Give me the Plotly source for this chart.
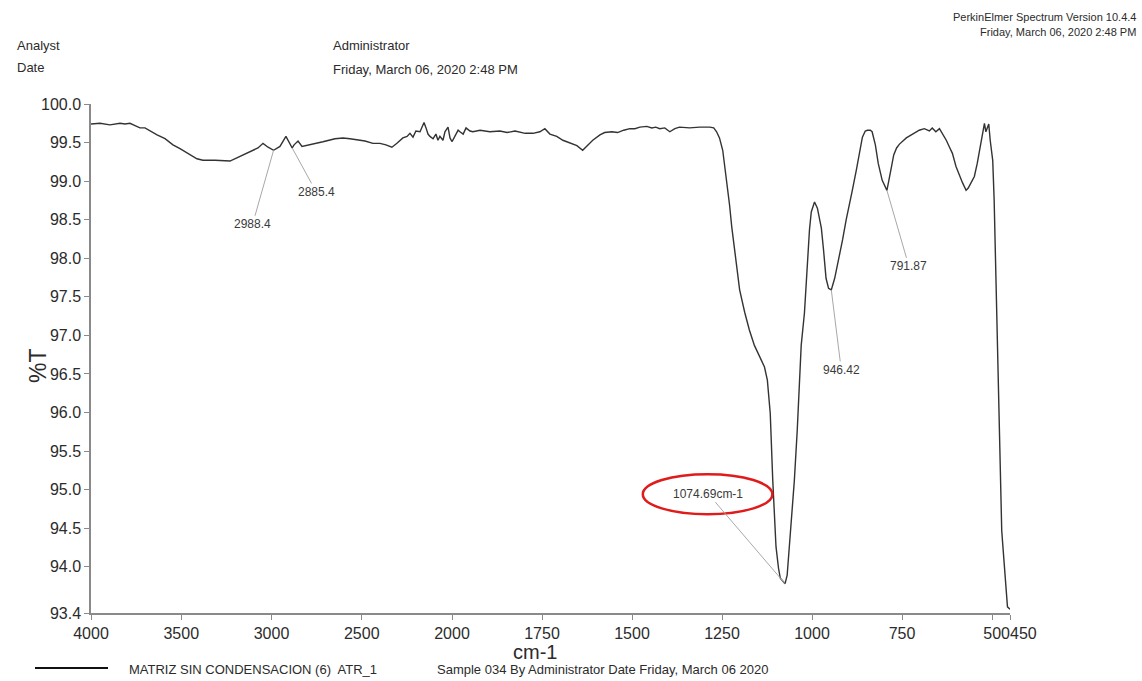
import plotly.graph_objects as go

# ---- spectrum data: wavenumber (cm-1) and transmittance (%T) ----
# 4000 -> 2000 cm-1 section (compressed scale)
wn_hi = [4000, 3950, 3895, 3839, 3812, 3784, 3756, 3729, 3701, 3673,
         3634, 3590, 3546, 3507, 3452, 3413, 3380, 3313, 3230, 3175,
         3119, 3075, 3047, 3019, 2988.4, 2953, 2920, 2885.4, 2875, 2853,
         2831, 2787, 2715, 2648, 2604, 2565, 2526, 2482, 2438, 2399,
         2366, 2333, 2305, 2272, 2249, 2233, 2216, 2200, 2177, 2166,
         2155, 2144, 2133, 2122, 2105, 2089, 2078, 2067, 2050, 2039,
         2022, 2011, 2000]
t_hi = [99.74, 99.75, 99.73, 99.75, 99.74, 99.75, 99.72, 99.69, 99.69, 99.65,
        99.60, 99.55, 99.47, 99.42, 99.34, 99.29, 99.27, 99.27, 99.26, 99.32,
        99.38, 99.43, 99.49, 99.44, 99.40, 99.45, 99.58, 99.43, 99.47, 99.52,
        99.45, 99.47, 99.51, 99.55, 99.56, 99.55, 99.54, 99.52, 99.49, 99.49,
        99.47, 99.44, 99.49, 99.56, 99.58, 99.62, 99.57, 99.65, 99.64, 99.69,
        99.76, 99.69, 99.61, 99.58, 99.55, 99.61, 99.53, 99.58, 99.53, 99.64,
        99.70, 99.56, 99.51]

# 2000 -> 450 cm-1 section (expanded scale)
wn_lo = [2000, 1992, 1983, 1978, 1969, 1961, 1950, 1942, 1922, 1895,
         1867, 1847, 1825, 1797, 1775, 1756, 1742, 1728, 1709, 1692,
         1673, 1653, 1637, 1623, 1609, 1589, 1576, 1556, 1540, 1523,
         1506, 1492, 1478, 1459, 1445, 1434, 1423, 1409, 1395, 1381,
         1368, 1340, 1312, 1284, 1273, 1265, 1257, 1248, 1243, 1237,
         1229, 1223, 1215, 1210, 1201, 1187, 1174, 1160, 1150, 1140,
         1132, 1124, 1118, 1116, 1109, 1104, 1100, 1093, 1088, 1074.69,
         1069, 1063, 1055, 1049, 1041, 1035, 1030, 1021, 1013, 1007,
         1002, 993, 985, 974, 968, 961, 954, 946.42, 937, 928,
         915, 905, 896, 888, 877, 868, 860, 852, 846, 838,
         833, 824, 816, 805, 791.87, 779, 773, 765, 757, 738,
         721, 702, 688, 674, 666, 656, 646, 638, 627, 618,
         610, 600, 591, 582, 572, 566, 558, 549, 541, 535,
         530, 521, 517, 509, 505, 498, 494, 489, 485, 480,
         473, 470, 463, 457, 450]
t_lo = [99.51, 99.58, 99.66, 99.64, 99.61, 99.69, 99.65, 99.64, 99.66, 99.64,
        99.65, 99.63, 99.65, 99.62, 99.62, 99.64, 99.68, 99.61, 99.58, 99.53,
        99.50, 99.46, 99.40, 99.46, 99.53, 99.60, 99.63, 99.64, 99.63, 99.66,
        99.68, 99.68, 99.70, 99.71, 99.69, 99.70, 99.68, 99.69, 99.64, 99.68,
        99.70, 99.69, 99.70, 99.70, 99.69, 99.64, 99.56, 99.40, 99.23, 99.01,
        98.69, 98.41, 98.11, 97.85, 97.59, 97.30, 97.07, 96.87, 96.77, 96.67,
        96.59, 96.42, 96.16, 95.99, 95.12, 94.60, 94.26, 93.98, 93.85, 93.78,
        93.89, 94.26, 94.73, 95.12, 95.77, 96.42, 96.87, 97.29, 97.98, 98.37,
        98.60, 98.73, 98.65, 98.39, 98.11, 97.74, 97.61, 97.59, 97.74, 97.94,
        98.24, 98.50, 98.69, 98.88, 99.14, 99.38, 99.57, 99.65, 99.66, 99.66,
        99.64, 99.47, 99.23, 99.01, 98.88, 99.19, 99.34, 99.43, 99.48, 99.56,
        99.61, 99.66, 99.68, 99.65, 99.69, 99.64, 99.68, 99.62, 99.53, 99.44,
        99.36, 99.19, 99.08, 98.98, 98.88, 98.91, 98.98, 99.06, 99.23, 99.38,
        99.53, 99.75, 99.64, 99.74, 99.53, 99.27, 98.75, 97.72, 96.68, 95.56,
        94.47, 94.28, 93.83, 93.48, 93.45]

# labelled peaks
peak_wn = [2988.4, 2885.4, 1074.69, 946.42, 791.87]
peak_text = ["2988.4", "2885.4", "1074.69cm-1", "946.42", "791.87"]
peak_offset = [(-21, 74), (24, 44), (-77, -90), (10, 80), (22, 76)]

# axis ticks (500 and 450 sit so close that their labels run together)
x_ticks_hi = [4000, 3500, 3000, 2500]
x_labels_hi = ["4000", "3500", "3000", "2500"]
x_ticks_lo = [2000, 1750, 1500, 1250, 1000, 750, 500, 450]
x_labels_lo = ["2000", "1750", "1500", "1250", "1000", "750", "", "500450"]
y_ticks = [100.0, 99.5, 99.0, 98.5, 98.0, 97.5, 97.0, 96.5, 96.0, 95.5, 95.0, 94.5, 94.0, 93.4]

# ---- page geometry ----
W, H = 1142, 681
ML, MR, MT, MB = 91, 132, 104, 68
PW, PH = W - ML - MR, H - MT - MB
SPLIT = 361 / PW
FONT = "Liberation Sans, Arial, sans-serif"
AXC = "#8a8a8a"
TXT = "#2b2b2b"


def paper_x(px):
    return (px - ML) / PW


def paper_y(py):
    return (MT + PH - py) / PH


fig = go.Figure()
line_style = dict(color="#333333", width=1.4)
fig.add_trace(go.Scatter(x=wn_hi, y=t_hi, xaxis="x", yaxis="y", mode="lines",
                         line=line_style, hoverinfo="skip"))
fig.add_trace(go.Scatter(x=wn_lo, y=t_lo, xaxis="x2", yaxis="y", mode="lines",
                         line=line_style, hoverinfo="skip"))

axis_common = dict(showline=True, linecolor=AXC, linewidth=1.5, ticks="outside",
                   ticklen=5, tickcolor=AXC, tickwidth=1.2, showgrid=False,
                   zeroline=False, tickangle=0,
                   tickfont=dict(family=FONT, size=16, color=TXT))

fig.update_layout(
    width=W, height=H,
    margin=dict(l=ML, r=MR, t=MT, b=MB, pad=0),
    paper_bgcolor="white", plot_bgcolor="white",
    showlegend=False, hovermode=False,
    font=dict(family=FONT, color=TXT),
    xaxis=dict(domain=[0, SPLIT], range=[4000, 2000], tickmode="array",
               tickvals=x_ticks_hi, ticktext=x_labels_hi,
               anchor="y", **axis_common),
    xaxis2=dict(domain=[SPLIT, 1], range=[2000, 450], tickmode="array",
                tickvals=x_ticks_lo, ticktext=x_labels_lo,
                anchor="y", **axis_common),
    yaxis=dict(range=[93.4, 100.0], tickmode="array", tickvals=y_ticks,
               ticktext=[f"{v:.1f}" for v in y_ticks], anchor="x", **axis_common),
)

# peak labels with leader lines
curve = dict(zip(wn_hi + wn_lo, t_hi + t_lo))
for wn, txt, (ax, ay) in zip(peak_wn, peak_text, peak_offset):
    fig.add_annotation(x=wn, y=curve[wn], xref="x" if wn > 2000 else "x2", yref="y",
                       text=txt, showarrow=True, arrowhead=0, arrowwidth=1,
                       arrowcolor="#a8a8a8", ax=ax, ay=ay, standoff=0,
                       font=dict(family=FONT, size=12, color="#3a3a3a"))

# highlight ring round the main band label
fig.add_shape(type="circle", xref="x2", yref="y", x0=1470, x1=1110, y0=94.68, y1=95.20,
              line=dict(color="#e01b1b", width=2.5))

# axis titles
fig.add_annotation(x=paper_x(535), y=paper_y(652), xref="paper", yref="paper",
                   text="cm-1", showarrow=False, yanchor="middle",
                   font=dict(family=FONT, size=20, color=TXT))
fig.add_annotation(x=paper_x(23), y=paper_y(366), xref="paper", yref="paper",
                   text="%T", textangle=-90, showarrow=False,
                   font=dict(family=FONT, size=23, color=TXT))

# header block
header = [
    (15, 45, "Analyst", 13, "left"),
    (15, 67, "Date", 13, "left"),
    (331, 45, "Administrator", 13, "left"),
    (331, 70, "Friday, March 06, 2020 2:48 PM", 13, "left"),
    (1138, 17, "PerkinElmer Spectrum Version 10.4.4", 11, "right"),
    (1138, 32, "Friday, March 06, 2020 2:48 PM", 11, "right"),
    (127, 669, "MATRIZ SIN CONDENSACION (6)  ATR_1", 13, "left"),
    (435, 669, "Sample 034 By Administrator Date Friday, March 06 2020", 13, "left"),
]
for px, py, txt, size, anchor in header:
    fig.add_annotation(x=paper_x(px), y=paper_y(py), xref="paper", yref="paper",
                       text=txt, showarrow=False, xanchor=anchor, yanchor="middle",
                       font=dict(family=FONT, size=size, color=TXT))

# legend line sample
fig.add_shape(type="line", xref="paper", yref="paper",
              x0=paper_x(35), x1=paper_x(108), y0=paper_y(668), y1=paper_y(668),
              line=dict(color="#111111", width=2))

fig.write_html("out.html")
